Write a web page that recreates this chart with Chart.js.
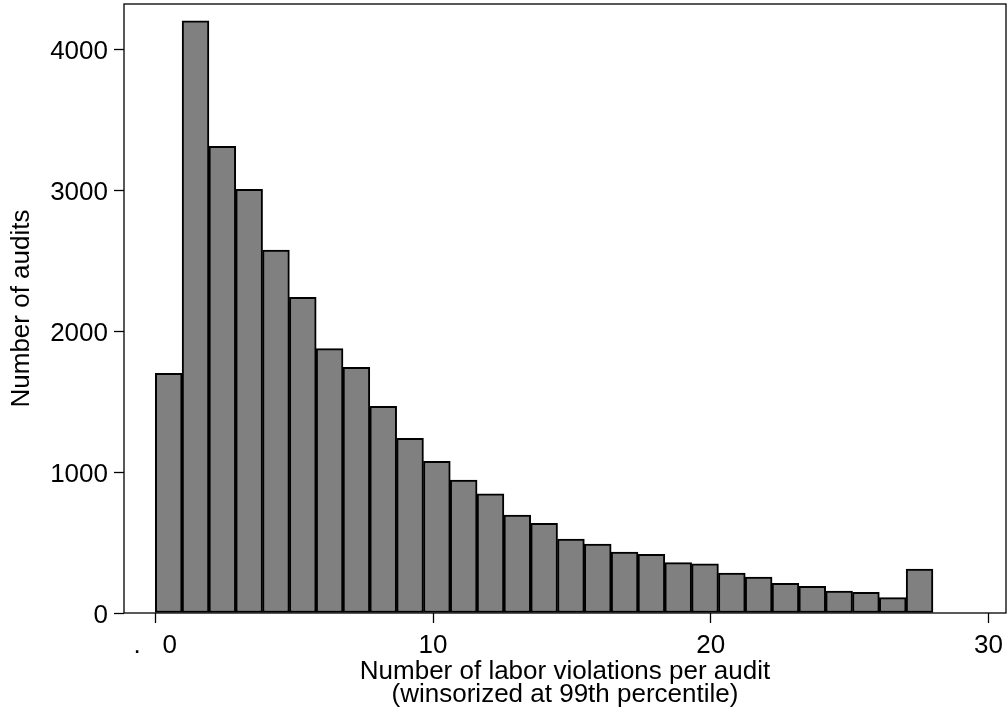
<!DOCTYPE html>
<html>
<head>
<meta charset="utf-8">
<script src="https://cdn.jsdelivr.net/npm/chart.js@4.4.1/dist/chart.umd.min.js"></script>
<style>
  html, body { margin: 0; padding: 0; background: #fff; }
  #wrap { width: 1008px; height: 717px; }
</style>
</head>
<body>
<div id="wrap"><canvas id="hist"></canvas></div>
<script>
// histogram: 29 bins over 0..28 (Stata default binning)
const binCount = 29;
const binWidth = 28 / binCount;
const counts = [1700, 4201, 3310, 3005, 2574, 2239, 1875, 1743, 1466, 1239,
                1076, 942, 846, 695, 636, 525, 489, 433, 416, 357,
                348, 284, 254, 211, 189, 156, 147, 109, 312];
const binCenters = counts.map((_, i) => (i + 0.5) * binWidth);

const xTicks = [0, 10, 20, 30];
const xTickLabels = [".   0", "10", "20", "30"];
const yTicks = [0, 1000, 2000, 3000, 4000];
const yTickLabels = ["0", "1000", "2000", "3000", "4000"];

const FONT = "'Liberation Sans', Arial, Helvetica, sans-serif";

// box around the plot region
const frame = {
  id: "frame",
  afterDatasetsDraw(chart) {
    const { ctx, chartArea: a } = chart;
    ctx.save();
    ctx.strokeStyle = "#000";
    ctx.lineWidth = 1.3;
    ctx.strokeRect(a.left, a.top, a.right - a.left, a.bottom - a.top);
    ctx.restore();
  },
};

new Chart(document.getElementById("hist"), {
  type: "bar",
  data: {
    datasets: [
      {
        data: binCenters.map((x, i) => ({ x: x, y: counts[i] })),
        backgroundColor: "#808080",
        borderColor: "#000",
        borderWidth: 2,
        borderSkipped: false,
        barPercentage: 1,
        categoryPercentage: 1,
      },
    ],
  },
  options: {
    responsive: true,
    maintainAspectRatio: false,
    animation: false,
    layout: { padding: { top: 4, right: 2, left: 0, bottom: 0 } },
    plugins: { legend: { display: false }, tooltip: { enabled: false } },
    scales: {
      x: {
        type: "linear",
        offset: false,
        min: -1.127,
        max: 30.63,
        afterFit: (s) => { s.height = 104; s.paddingLeft = 0; s.paddingRight = 0; },
        afterBuildTicks: (s) => { s.ticks = xTicks.map((v) => ({ value: v })); },
        ticks: {
          color: "#000",
          font: { family: FONT, size: 26, lineHeight: 1.2 },
          padding: 7,
          maxRotation: 0,
          autoSkip: false,
          callback: (v) => xTickLabels[xTicks.indexOf(v)],
        },
        grid: { offset: false, drawOnChartArea: false, tickLength: 10, tickColor: "#000", tickWidth: 1.3 },
        border: { display: false },
        title: {
          display: true,
          text: ["Number of labor violations per audit", "(winsorized at 99th percentile)"],
          color: "#000",
          font: { family: FONT, size: 26, lineHeight: 0.9 },
          padding: { top: 0, bottom: 10 },
        },
      },
      y: {
        min: 0,
        max: 4320,
        afterFit: (s) => { s.width = 124; s.paddingTop = 0; s.paddingBottom = 0; },
        afterBuildTicks: (s) => { s.ticks = yTicks.map((v) => ({ value: v })); },
        ticks: {
          color: "#000",
          font: { family: FONT, size: 26, lineHeight: 1.2 },
          padding: 6,
          labelOffset: 3,
          callback: (v) => yTickLabels[yTicks.indexOf(v)],
        },
        grid: { drawOnChartArea: false, tickLength: 10, tickColor: "#000", tickWidth: 1.3 },
        border: { display: false },
        title: {
          display: true,
          text: "Number of audits",
          color: "#000",
          font: { family: FONT, size: 26, lineHeight: 1.2 },
          padding: { top: 6, bottom: 0 },
        },
      },
    },
  },
  plugins: [frame],
});
</script>
</body>
</html>
